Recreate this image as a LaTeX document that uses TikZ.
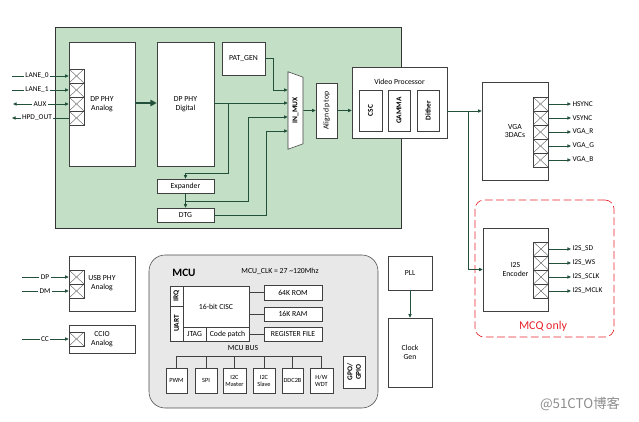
\documentclass[tikz,border=0pt]{standalone}
\usepackage{fontspec}
\setmainfont{Carlito}
\newfontfamily\cjkfont{Noto Sans CJK SC}
\usepackage{xcolor}
\usepackage{tikz}
\usetikzlibrary{arrows.meta,shapes.geometric}

\definecolor{dpgreen}{HTML}{C3E0C6}
\definecolor{wirec}{HTML}{22503A}
\definecolor{mcugray}{HTML}{E8E8E8}
\definecolor{mcqred}{HTML}{E6242B}

\begin{document}
\begin{tikzpicture}[x=0.05cm,y=-0.05cm,
	font=\fontsize{11}{12.5}\selectfont,
	blk/.style={draw=black!75,fill=white,line width=0.8pt,inner sep=1pt,align=center},
	rot/.style={blk,rotate=90,font=\fontsize{10.5}{12}\selectfont\bfseries},
	port/.style={draw=black!75,fill=white,line width=0.7pt,minimum width=0.75cm,minimum height=0.7cm,inner sep=0pt,
		path picture={\draw[black!70,line width=0.5pt] (path picture bounding box.north west) -- (path picture bounding box.south east) (path picture bounding box.north east) -- (path picture bounding box.south west);}},
	sig/.style={draw=wirec,line width=0.9pt,-{Triangle[length=5pt,width=4.5pt]}},
	link/.style={draw=wirec,line width=0.9pt},
	lbl/.style={inner sep=2pt,font=\fontsize{10.5}{12}\selectfont},
	small/.style={blk,font=\fontsize{9}{10}\selectfont}]

				\useasboundingbox (0,0) rectangle (639,422);

				\node[draw=black!80,fill=dpgreen,line width=0.8pt,minimum width=17.3cm,minimum height=10.05cm] (core) at (228,127.5) {};

				\node[blk,minimum width=3.3cm,minimum height=6.2cm] (phyana) at (102,104) {DP PHY\\Analog};
				\node[port] (pa0) at (76.5,76) {};
				\node[port] (pa1) at (76.5,90) {};
				\node[port] (pa2) at (76.5,104) {};
				\node[port] (pa3) at (76.5,118) {};

				\node[lbl] (lane0) at (37,76) {LANE\_0};
				\node[lbl] (lane1) at (37,90) {LANE\_1};
				\node[lbl] (aux) at (40,104) {AUX};
				\node[lbl] (hpd) at (37,118) {HPD\_OUT};
				\coordinate (lane0in) at (12,76);
				\coordinate (lane1in) at (12,90);
				\coordinate (auxio) at (13,104);
				\coordinate (hpdout) at (12,118);
				\draw[link] (lane0in) -- (lane0.west);
				\draw[sig] (lane0.east) -- (pa0.west);
				\draw[link] (lane1in) -- (lane1.west);
				\draw[sig] (lane1.east) -- (pa1.west);
				\draw[sig] (aux.west) -- (auxio);
				\draw[sig] (aux.east) -- (pa2.west);
				\draw[link] (pa3.west) -- (hpd.east);
				\draw[sig] (hpd.west) -- (hpdout);

				\node[blk,minimum width=2.85cm,minimum height=6.2cm] (phydig) at (185.5,104) {DP PHY\\Digital};
				\draw[wirec,line width=2.5pt,-{Triangle[length=9pt,width=9pt]}] (phyana.east |- 0,103) -- (phydig.west |- 0,103);

				\node[blk,minimum width=2.15cm,minimum height=1.65cm] (patgen) at (243.5,58.5) {PAT\_GEN};
				\node[blk,minimum width=2.85cm,minimum height=0.7cm] (exp) at (185.5,186) {Expander};
				\node[blk,minimum width=2.85cm,minimum height=0.7cm] (dtg) at (185.5,215) {DTG};

				\node[draw=black!75,fill=white,line width=0.8pt,trapezium,trapezium angle=70,rotate=90,shape border rotate=180,
					minimum width=2.75cm,minimum height=0.75cm,inner sep=0pt,font=\fontsize{10.5}{12}\selectfont\bfseries] (mux) at (295.5,110.5) {IN\_MUX};
				\node[blk,rotate=90,minimum width=2.75cm,minimum height=1.05cm] (align) at (326.5,110.5) {Align dp top};

				\coordinate (tap1) at (228,103);
				\coordinate (tap2) at (185.5,201);
				\draw[sig] (patgen.east) -| (273,90) -- (mux.north |- 0,90);
				\draw[sig] (phydig.east |- 0,103) -- (mux.north |- 0,103);
				\draw[sig] (tap1) |- (exp.north |- 0,173) -- (exp.north);
				\draw[sig] (exp.south) -- (dtg.north);
				\draw[sig] (tap2) -| (248,117) -- (mux.north |- 0,117);
				\draw[sig] (dtg.east) -| (266,131) -- (mux.north |- 0,131);
				\draw[sig] (mux.south) -- (align.north);

				\node[blk,minimum width=4.75cm,minimum height=3.55cm] (vp) at (399.5,102.5) {};
				\node (vptitle) at (399.5,82) {Video Processor};
				\node[rot,minimum width=2.05cm,minimum height=1.15cm] (csc) at (370.5,110.5) {CSC};
				\node[rot,minimum width=2.05cm,minimum height=1.1cm] (gamma) at (399,110.5) {GAMMA};
				\node[rot,minimum width=2.05cm,minimum height=1.1cm] (dither) at (428,110.5) {Dither};
				\draw[sig] (align.south) -- (align.south -| vp.west);

				\node[blk,minimum width=3.3cm,minimum height=4.9cm] (vga) at (515,131) {VGA\\3DACs};
				\node[port] (v0) at (540.5,104) {};
				\node[port] (v1) at (540.5,118) {};
				\node[port] (v2) at (540.5,132) {};
				\node[port] (v3) at (540.5,146) {};
				\node[port] (v4) at (540.5,160) {};
				\node[lbl,anchor=west] (hsync) at (571,104) {HSYNC};
				\node[lbl,anchor=west] (vsync) at (571,118) {VSYNC};
				\node[lbl,anchor=west] (vgar) at (571,132) {VGA\_R};
				\node[lbl,anchor=west] (vgag) at (571,146) {VGA\_G};
				\node[lbl,anchor=west] (vgab) at (571,160) {VGA\_B};
				\draw[sig] (v0.east) -- (hsync.west);
				\draw[sig] (v1.east) -- (vsync.west);
				\draw[sig] (v2.east) -- (vgar.west);
				\draw[sig] (v3.east) -- (vgag.west);
				\draw[sig] (v4.east) -- (vgab.west);

				\node[draw=mcqred,line width=0.9pt,dash pattern=on 11pt off 5pt,rounded corners=0.45cm,minimum width=6.95cm,minimum height=6.85cm] (mcq) at (544.5,268.5) {};
				\node[text=mcqred,font=\fontsize{17}{20}\selectfont] (mcqtxt) at (543,326) {MCQ only};
				\node[blk,minimum width=3.25cm,minimum height=4.15cm] (i2s) at (515.5,269.5) {I2S\\Encoder};
				\node[port] (s0) at (541,249) {};
				\node[port] (s1) at (541,263) {};
				\node[port] (s2) at (541,277) {};
				\node[port] (s3) at (541,291) {};
				\node[lbl,anchor=west] (i2ssd) at (571,249) {I2S\_SD};
				\node[lbl,anchor=west] (i2sws) at (571,263) {I2S\_WS};
				\node[lbl,anchor=west] (i2ssclk) at (571,277) {I2S\_SCLK};
				\node[lbl,anchor=west] (i2smclk) at (571,291) {I2S\_MCLK};
				\draw[sig] (s0.east) -- (i2ssd.west);
				\draw[sig] (s1.east) -- (i2sws.west);
				\draw[sig] (s2.east) -- (i2ssclk.west);
				\draw[sig] (s3.east) -- (i2smclk.west);

				\coordinate (tap3) at (468,111);
				\draw[sig] (vp.east |- 0,111) -- (vga.west |- 0,111);
				\draw[sig] (tap3) |- (i2s.west);

				\node[blk,minimum width=3.3cm,minimum height=2.75cm] (usb) at (102,283.5) {USB PHY\\Analog};
				\node[port] (u0) at (76.5,277) {};
				\node[port] (u1) at (76.5,291) {};
				\node[blk,minimum width=3.3cm,minimum height=1.4cm] (ccio) at (102,339) {CCIO\\Analog};
				\node[port] (c0) at (76.5,339) {};
				\node[lbl] (dp) at (45,277) {DP};
				\node[lbl] (dm) at (45,291) {DM};
				\node[lbl] (cc) at (45,339) {CC};
				\coordinate (dpin) at (22,277);
				\coordinate (dmin) at (22,291);
				\coordinate (ccin) at (22,339);
				\draw[link] (dpin) -- (dp.west);
				\draw[sig] (dp.east) -- (u0.west);
				\draw[link] (dmin) -- (dm.west);
				\draw[sig] (dm.east) -- (u1.west);
				\draw[link] (ccin) -- (cc.west);
				\draw[sig] (cc.east) -- (c0.west);

				\node[draw=black!70,fill=mcugray,line width=0.8pt,rounded corners=0.8cm,minimum width=11.45cm,minimum height=7.65cm] (mcu) at (263.5,331.5) {};
				\node[font=\fontsize{16}{18}\selectfont\bfseries] (mcutitle) at (184,273) {MCU};
				\node (mcuclk) at (280,271) {MCU\_CLK = 27 \textasciitilde120Mhz};

				\node[rot,minimum width=1.0cm,minimum height=0.65cm] (irq) at (176.5,296) {IRQ};
				\node[rot,minimum width=1.75cm,minimum height=0.65cm] (uart) at (176.5,323.5) {UART};
				\node[blk,minimum width=3.3cm,minimum height=2.05cm] (cisc) at (216,306.5) {16-bit CISC};
				\node[blk,minimum width=1.15cm,minimum height=0.7cm] (jtag) at (194.5,334) {JTAG};
				\node[blk,minimum width=2.15cm,minimum height=0.7cm] (patch) at (227.5,334) {Code patch};
				\node[blk,minimum width=2.9cm,minimum height=0.75cm] (rom) at (293,292.5) {64K ROM};
				\node[blk,minimum width=2.9cm,minimum height=0.7cm] (ram) at (293,314) {16K RAM};
				\node[blk,minimum width=2.9cm,minimum height=0.7cm] (regf) at (293,334) {REGISTER FILE};
				\draw[link,draw=black!75] (cisc.east |- rom.west) -- (rom.west);
				\draw[link,draw=black!75] (cisc.east |- ram.west) -- (ram.west);
				\draw[link,draw=black!75] (patch.east) -- (regf.west);

				\node (mcubus) at (243,348) {MCU BUS};
				\node[small,minimum width=1.05cm,minimum height=1.25cm] (pwm) at (176.5,380.5) {PWM};
				\node[small,minimum width=1.1cm,minimum height=1.25cm] (spi) at (206,380.5) {SPI};
				\node[small,minimum width=1.15cm,minimum height=1.25cm] (i2cm) at (234.5,380.5) {I2C\\Master};
				\node[small,minimum width=1.1cm,minimum height=1.25cm] (i2cs) at (264,380.5) {I2C\\Slave};
				\node[small,minimum width=1.05cm,minimum height=1.25cm] (ddc) at (292.5,380.5) {DDC2B};
				\node[small,minimum width=1.15cm,minimum height=1.25cm] (wdt) at (321.5,380.5) {H/W\\WDT};
				\node[rot,minimum width=1.6cm,minimum height=1.1cm] (gpio) at (354,372) {GPO/\\GPIO};
				\draw[link,draw=black!75] (pwm.north) |- (wdt.north |- 0,356) -- (wdt.north);
				\foreach \p in {spi,i2cm,i2cs,ddc}
					\draw[link,draw=black!75] (\p.north) -- (\p.north |- 0,356);

				\node[blk,minimum width=2.2cm,minimum height=1.7cm] (pll) at (410,273) {PLL};
				\node[blk,minimum width=2.2cm,minimum height=3.45cm] (clkgen) at (410,352.5) {Clock\\Gen};
				\draw[sig] (pll) -- (clkgen);

				\node[text=black!45,font=\cjkfont\fontsize{19}{22}\selectfont] (mark) at (580,404) {@51CTO博客};
\end{tikzpicture}
\end{document}
